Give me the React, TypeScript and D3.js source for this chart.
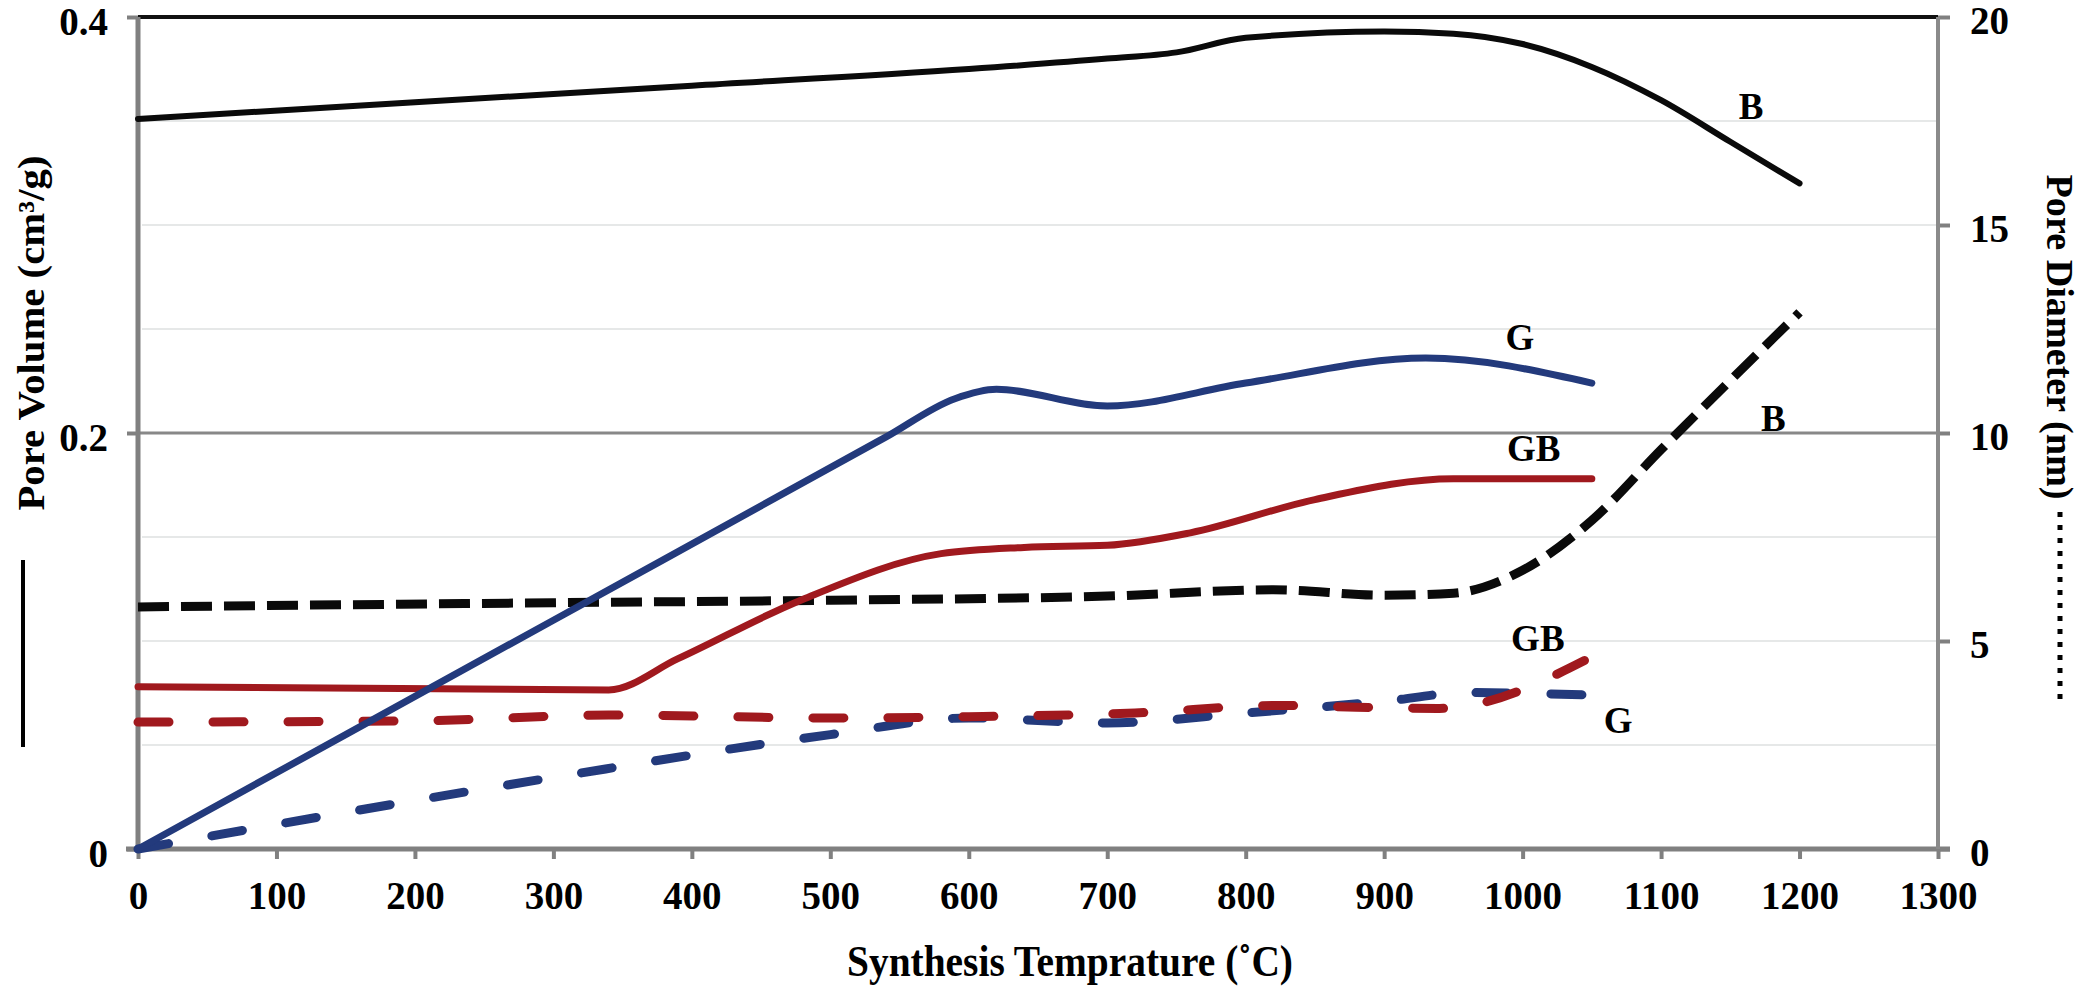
import React, { useEffect, useRef } from 'react';
import * as d3 from 'd3';

type Pt = [number, number];

// Pore volume (cm3/g) – solid lines, left axis
const volumeB: Pt[] = [
  [0, 0.351], [200, 0.359], [400, 0.367], [600, 0.375], [700, 0.38], [750, 0.383],
  [800, 0.39], [900, 0.393], [950, 0.392], [1000, 0.387], [1050, 0.376], [1100, 0.36],
  [1150, 0.34], [1200, 0.32],
];
const volumeG: Pt[] = [
  [0, 0], [300, 0.11], [540, 0.198], [590, 0.2165], [620, 0.221], [700, 0.213],
  [800, 0.224], [930, 0.236], [1050, 0.224],
];
const volumeGB: Pt[] = [
  [0, 0.078], [340, 0.0765], [390, 0.0915], [480, 0.12], [580, 0.142], [640, 0.145],
  [700, 0.146], [760, 0.152], [850, 0.168], [950, 0.178], [1050, 0.178],
];

// Pore diameter (nm) – dashed lines, right axis
const diameterB: Pt[] = [
  [0, 5.82], [300, 5.92], [500, 5.98], [700, 6.08], [820, 6.23], [900, 6.1], [950, 6.15],
  [1000, 6.7], [1050, 7.9], [1100, 9.6], [1200, 12.9],
];
const diameterG: Pt[] = [
  [0, 0], [300, 1.72], [500, 2.75], [600, 3.15], [700, 3.03], [800, 3.27], [900, 3.55],
  [960, 3.76], [1050, 3.7],
];
const diameterGB: Pt[] = [
  [0, 3.05], [200, 3.08], [340, 3.22], [500, 3.15], [600, 3.18], [720, 3.27], [825, 3.45],
  [880, 3.41], [940, 3.38], [1050, 4.62],
];

const tempTicks = [0, 100, 200, 300, 400, 500, 600, 700, 800, 900, 1000, 1100, 1200, 1300];
const volumeTicks = [0, 0.2, 0.4];
const diameterTicks = [0, 5, 10, 15, 20];
const lightGrid = [2.5, 5, 7.5, 12.5, 15, 17.5];

// curve labels: [text, temperature, value, axis]
const curveLabels: [string, number, number, 'left' | 'right'][] = [
  ['B', 1165, 0.357, 'left'],
  ['G', 998, 0.246, 'left'],
  ['GB', 1008, 0.193, 'left'],
  ['B', 1181, 10.36, 'right'],
  ['GB', 1011, 5.07, 'right'],
  ['G', 1069, 3.1, 'right'],
];

const FONT = '"Liberation Serif", "Times New Roman", serif';
const BLUE = '#233a7c';
const RED = '#a0191e';
const BLACK = '#0a0a0a';

const App: React.FC = () => {
  const svgRef = useRef<SVGSVGElement>(null);

  useEffect(() => {
    if (!svgRef.current) return;
    const svg = d3.select(svgRef.current);
    svg.selectAll('*').remove();

    const x = d3.scaleLinear().domain([0, 1300]).range([138, 1938]);
    const yL = d3.scaleLinear().domain([0, 0.4]).range([849, 17]);
    const yR = d3.scaleLinear().domain([0, 20]).range([849, 17]);

    // light grid
    svg.append('g')
      .selectAll('line')
      .data(lightGrid)
      .join('line')
      .attr('x1', x(0) + 4)
      .attr('x2', x(1300))
      .attr('y1', d => yR(d))
      .attr('y2', d => yR(d))
      .attr('stroke', '#e6e8e8')
      .attr('stroke-width', 2);

    // major line at 0.2 and top line
    svg.append('line')
      .attr('x1', x(0)).attr('x2', x(1300))
      .attr('y1', yL(0.2)).attr('y2', yL(0.2))
      .attr('stroke', '#888').attr('stroke-width', 3);
    svg.append('line')
      .attr('x1', x(0)).attr('x2', x(1300))
      .attr('y1', yL(0.4)).attr('y2', yL(0.4))
      .attr('stroke', '#111').attr('stroke-width', 4);

    const styleText = (sel: d3.Selection<any, any, any, any>, size: number) =>
      sel.attr('font-family', FONT)
        .attr('font-size', size)
        .attr('font-weight', 'bold')
        .attr('fill', '#000');

    // x axis
    const xAxis = svg.append('g')
      .attr('transform', `translate(0,${yL(0)})`)
      .call(d3.axisBottom(x).tickValues(tempTicks).tickSize(10).tickSizeOuter(0).tickPadding(22)
        .tickFormat(d => String(d)));
    xAxis.select('.domain').remove();
    xAxis.selectAll('line').attr('stroke', '#808080').attr('stroke-width', 4);
    styleText(xAxis.selectAll('text'), 39);

    // left axis
    const lAxis = svg.append('g')
      .attr('transform', `translate(${x(0)},0)`)
      .call(d3.axisLeft(yL).tickValues(volumeTicks).tickSize(11).tickSizeOuter(0).tickPadding(19)
        .tickFormat(d => String(d)));
    lAxis.select('.domain').remove();
    lAxis.selectAll('line').attr('stroke', '#808080').attr('stroke-width', 4);
    styleText(lAxis.selectAll('text'), 39).attr('y', 5);

    // right axis
    const rAxis = svg.append('g')
      .attr('transform', `translate(${x(1300)},0)`)
      .call(d3.axisRight(yR).tickValues(diameterTicks).tickSize(12).tickSizeOuter(0).tickPadding(20)
        .tickFormat(d => String(d)));
    rAxis.select('.domain').remove();
    rAxis.selectAll('line').attr('stroke', '#808080').attr('stroke-width', 4);
    styleText(rAxis.selectAll('text'), 39).attr('y', 4);

    // axis lines
    svg.append('line')
      .attr('x1', x(0) - 12).attr('x2', x(1300) + 12)
      .attr('y1', yL(0)).attr('y2', yL(0))
      .attr('stroke', '#808080').attr('stroke-width', 5);
    svg.append('line')
      .attr('x1', x(0)).attr('x2', x(0))
      .attr('y1', yL(0.4)).attr('y2', yL(0))
      .attr('stroke', '#808080').attr('stroke-width', 5);
    svg.append('line')
      .attr('x1', x(1300)).attr('x2', x(1300))
      .attr('y1', yL(0.4)).attr('y2', yL(0))
      .attr('stroke', '#8a8a8a').attr('stroke-width', 4);

    const curve = d3.curveMonotoneX;
    const volLine = d3.line<Pt>().x(d => x(d[0])).y(d => yL(d[1])).curve(curve);
    const diaLine = d3.line<Pt>().x(d => x(d[0])).y(d => yR(d[1])).curve(curve);

    const dashed: [Pt[], string, string, string][] = [
      [diameterG, BLUE, '31 44', 'round'],
      [diameterGB, RED, '31 44', 'round'],
      [diameterB, BLACK, '31 12', 'butt'],
    ];
    dashed.forEach(([data, color, dash, cap]) => {
      svg.append('path')
        .attr('d', diaLine(data))
        .attr('fill', 'none')
        .attr('stroke', color)
        .attr('stroke-width', 9)
        .attr('stroke-dasharray', dash)
        .attr('stroke-linecap', cap);
    });

    const solid: [Pt[], string, number][] = [
      [volumeGB, RED, 7],
      [volumeG, BLUE, 7],
      [volumeB, BLACK, 6],
    ];
    solid.forEach(([data, color, w]) => {
      svg.append('path')
        .attr('d', volLine(data))
        .attr('fill', 'none')
        .attr('stroke', color)
        .attr('stroke-width', w)
        .attr('stroke-linecap', 'round');
    });

    // curve labels
    curveLabels.forEach(([t, temp, v, axis]) => {
      styleText(svg.append('text'), 37)
        .attr('x', x(temp))
        .attr('y', axis === 'left' ? yL(v) : yR(v))
        .attr('dy', '0.35em')
        .attr('text-anchor', 'middle')
        .text(t);
    });

    // axis titles
    styleText(svg.append('text'), 44)
      .attr('x', 1070)
      .attr('y', 976)
      .attr('text-anchor', 'middle')
      .attr('textLength', 446)
      .attr('lengthAdjust', 'spacingAndGlyphs')
      .text('Synthesis Temprature (˚C)');

    styleText(svg.append('text'), 38)
      .attr('transform', 'translate(31,333) rotate(-90)')
      .attr('text-anchor', 'middle')
      .attr('dy', '0.35em')
      .attr('textLength', 355)
      .attr('lengthAdjust', 'spacingAndGlyphs')
      .text('Pore Volume (cm³/g)');

    styleText(svg.append('text'), 38)
      .attr('transform', 'translate(2060,337) rotate(90)')
      .attr('text-anchor', 'middle')
      .attr('dy', '0.35em')
      .attr('textLength', 325)
      .attr('lengthAdjust', 'spacingAndGlyphs')
      .text('Pore Diameter (nm)');

    // line-style keys next to the titles
    svg.append('line')
      .attr('x1', 23).attr('x2', 23).attr('y1', 560).attr('y2', 747)
      .attr('stroke', '#000').attr('stroke-width', 4);
    svg.append('line')
      .attr('x1', 2060).attr('x2', 2060).attr('y1', 512).attr('y2', 700)
      .attr('stroke', '#000').attr('stroke-width', 5)
      .attr('stroke-dasharray', '5 8');
  }, []);

  return (
    <svg
      ref={svgRef}
      width={2091}
      height={986}
      style={{ position: 'absolute', left: 0, top: 0, background: '#fff' }}
    />
  );
};

export default App;
